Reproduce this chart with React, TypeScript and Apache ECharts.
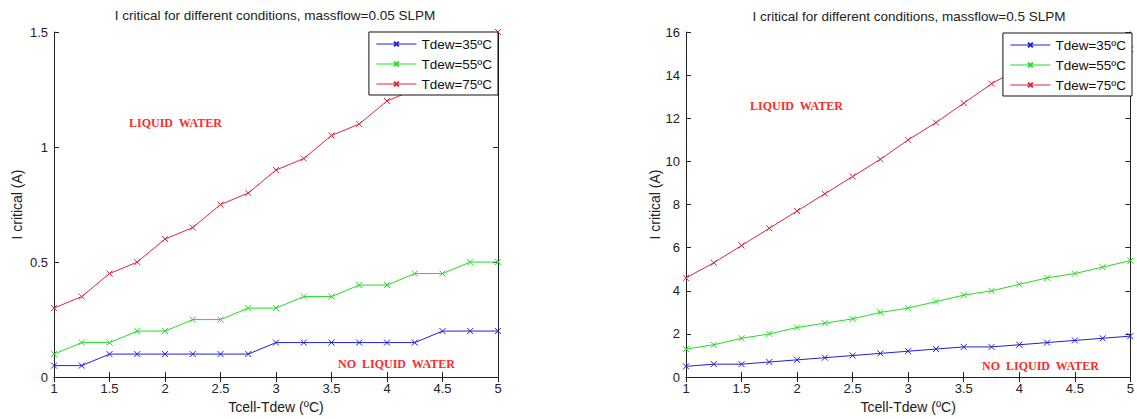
import React, { useEffect, useRef } from "react";
import * as echarts from "echarts";

const xValues = [1, 1.25, 1.5, 1.75, 2, 2.25, 2.5, 2.75, 3, 3.25, 3.5, 3.75, 4, 4.25, 4.5, 4.75, 5];
const seriesNames = ["Tdew=35ºC", "Tdew=55ºC", "Tdew=75ºC"];
const seriesColors = ["#1f1fe0", "#22dd22", "#e0243a"];

const left35 = [0.05, 0.05, 0.1, 0.1, 0.1, 0.1, 0.1, 0.1, 0.15, 0.15, 0.15, 0.15, 0.15, 0.15, 0.2, 0.2, 0.2];
const left55 = [0.1, 0.15, 0.15, 0.2, 0.2, 0.25, 0.25, 0.3, 0.3, 0.35, 0.35, 0.4, 0.4, 0.45, 0.45, 0.5, 0.5];
const left75 = [0.3, 0.35, 0.45, 0.5, 0.6, 0.65, 0.75, 0.8, 0.9, 0.95, 1.05, 1.1, 1.2, 1.25, 1.35, 1.4, 1.5];

const right35 = [0.5, 0.6, 0.6, 0.7, 0.8, 0.9, 1.0, 1.1, 1.2, 1.3, 1.4, 1.4, 1.5, 1.6, 1.7, 1.8, 1.9];
const right55 = [1.3, 1.5, 1.8, 2.0, 2.3, 2.5, 2.7, 3.0, 3.2, 3.5, 3.8, 4.0, 4.3, 4.6, 4.8, 5.1, 5.4];
const right75 = [4.6, 5.3, 6.1, 6.9, 7.7, 8.5, 9.3, 10.1, 11.0, 11.8, 12.7, 13.6, 14.3, 14.7, 15.0, 15.1, 15.2];

const leftTitle = "I critical for different conditions, massflow=0.05 SLPM";
const rightTitle = "I critical for different conditions, massflow=0.5 SLPM";
const xName = "Tcell-Tdew (ºC)";
const yName = "I critical (A)";

const FONT = "'Liberation Sans', Arial, Helvetica, sans-serif";
const AXIS_COLOR = "#222";
const CROSS = "path://M0,0L10,10M10,0L0,10";

function makeSeries(name: string, color: string, values: number[], gi: number) {
  return {
    type: "line",
    name,
    xAxisIndex: gi * 2,
    yAxisIndex: gi * 2,
    data: xValues.map((x, i) => [x, values[i]]),
    symbol: CROSS,
    symbolSize: 6,
    showSymbol: true,
    lineStyle: { color, width: 1 },
    itemStyle: { color, borderColor: color, borderWidth: 1 },
    emphasis: { disabled: true },
    z: 3,
  };
}

function xAxes(gi: number, max: number) {
  const common = {
    gridIndex: gi,
    type: "value",
    min: 1,
    max,
    interval: 0.5,
    splitLine: { show: false },
    axisLine: { show: true, lineStyle: { color: AXIS_COLOR, width: 1 } },
    axisTick: { show: true, inside: true, length: 5, lineStyle: { color: AXIS_COLOR } },
  };
  return [
    {
      ...common,
      position: "bottom",
      axisLabel: { show: true, color: AXIS_COLOR, fontSize: 13, fontFamily: FONT, margin: 5 },
      name: xName,
      nameLocation: "middle",
      nameGap: 20,
      nameTextStyle: { color: AXIS_COLOR, fontSize: 14, fontFamily: FONT },
    },
    { ...common, position: "top", axisLabel: { show: false } },
  ];
}

function yAxes(gi: number, max: number, interval: number, nameGap: number) {
  const common = {
    gridIndex: gi,
    type: "value",
    min: 0,
    max,
    interval,
    splitLine: { show: false },
    axisLine: { show: true, onZero: false, lineStyle: { color: AXIS_COLOR, width: 1 } },
    axisTick: { show: true, inside: true, length: 5, lineStyle: { color: AXIS_COLOR } },
  };
  return [
    {
      ...common,
      position: "left",
      axisLabel: { show: true, color: AXIS_COLOR, fontSize: 13, fontFamily: FONT, margin: 6 },
      name: yName,
      nameLocation: "middle",
      nameGap,
      nameRotate: 90,
      nameTextStyle: { color: AXIS_COLOR, fontSize: 14, fontFamily: FONT },
    },
    { ...common, position: "right", axisLabel: { show: false } },
  ];
}

function legend(right: number, top: number) {
  return {
    orient: "vertical",
    right,
    top,
    data: seriesNames,
    selectedMode: false,
    itemWidth: 40,
    itemHeight: 6,
    itemGap: 6,
    padding: [5, 6, 4, 7],
    borderColor: "#111",
    borderWidth: 1,
    borderRadius: 0,
    backgroundColor: "#fff",
    lineStyle: { width: 1 },
    textStyle: { color: "#111", fontSize: 13.5, fontFamily: FONT },
  };
}

function label(text: string, x: number, y: number) {
  return {
    type: "text",
    x,
    y,
    z: 10,
    style: {
      text,
      fill: "#ff2a2a",
      font: "bold 12px 'Liberation Serif', 'Times New Roman', serif",
      textAlign: "left",
      textVerticalAlign: "middle",
    },
  };
}

function titleText(text: string, x: number, y: number) {
  return {
    type: "text",
    x,
    y,
    style: {
      text,
      fill: "#222",
      font: `13.5px ${FONT}`,
      textAlign: "center",
      textVerticalAlign: "middle",
    },
  };
}

export default function App() {
  const ref = useRef<HTMLDivElement>(null);
  useEffect(() => {
    if (!ref.current) return;
    const chart = echarts.init(ref.current, null, { renderer: "svg" });
    chart.setOption({
      animation: false,
      backgroundColor: "#fff",
      grid: [
        { left: 54, right: 639, top: 32, bottom: 38 },
        { left: 686, right: 5, top: 32, bottom: 38 },
      ],
      xAxis: [...xAxes(0, 5), ...xAxes(1, 5)],
      yAxis: [...yAxes(0, 1.5, 0.5, 30), ...yAxes(1, 16, 2, 23)],
      legend: [legend(639, 32), legend(5, 33)],
      series: [
        makeSeries(seriesNames[0], seriesColors[0], left35, 0),
        makeSeries(seriesNames[1], seriesColors[1], left55, 0),
        makeSeries(seriesNames[2], seriesColors[2], left75, 0),
        makeSeries(seriesNames[0], seriesColors[0], right35, 1),
        makeSeries(seriesNames[1], seriesColors[1], right55, 1),
        makeSeries(seriesNames[2], seriesColors[2], right75, 1),
      ],
      graphic: [
        titleText(leftTitle, 275, 15),
        titleText(rightTitle, 909, 16),
        label("LIQUID  WATER", 129, 123),
        label("NO  LIQUID  WATER", 338, 364),
        label("LIQUID  WATER", 750, 106),
        label("NO  LIQUID  WATER", 982, 366),
      ],
    });
    return () => chart.dispose();
  }, []);
  return (
    <div
      ref={ref}
      style={{ position: "absolute", left: 0, top: 0, width: 1137, height: 419, background: "#fff" }}
    />
  );
}
